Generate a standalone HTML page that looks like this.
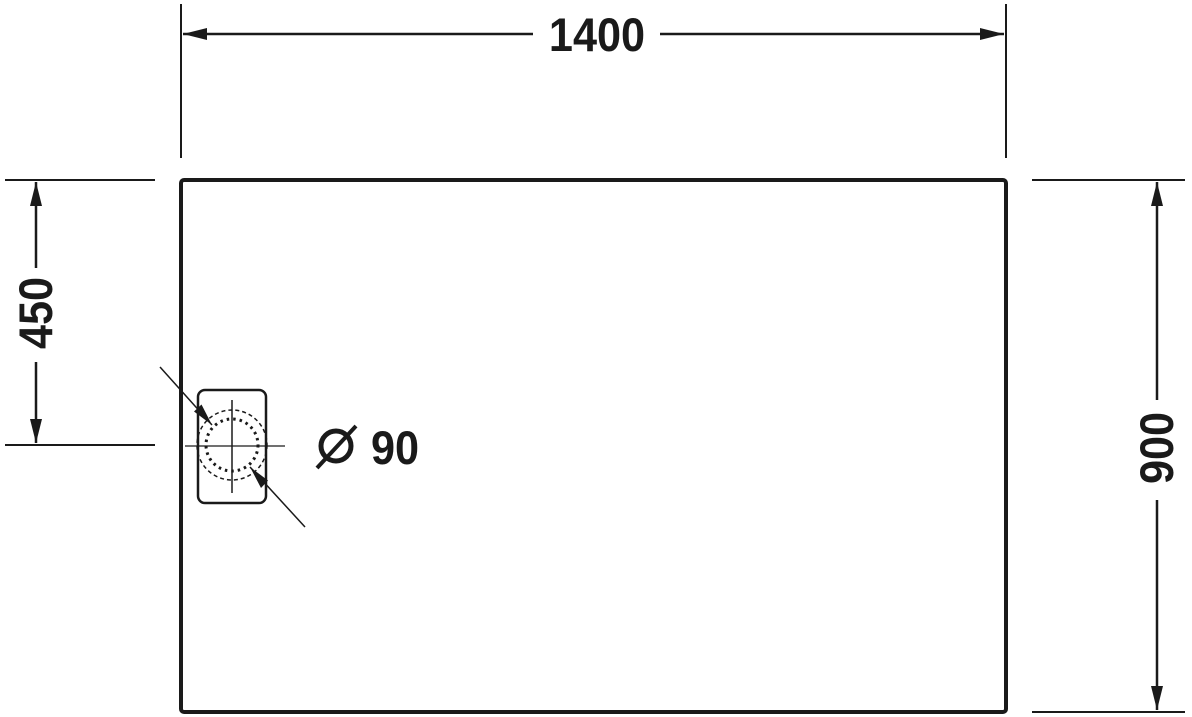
<!DOCTYPE html>
<html><head><style>
html,body{margin:0;padding:0;background:#fff;}
svg{display:block}
text{font-family:"Liberation Sans",sans-serif;font-weight:bold;fill:#1a1a1a}
</style></head><body>
<svg width="1192" height="717" viewBox="0 0 1192 717" xmlns="http://www.w3.org/2000/svg">
<g stroke="#1a1a1a" fill="none">
<rect x="181" y="180" width="825" height="532" rx="3" stroke-width="4"/>
<line x1="181" y1="4" x2="181" y2="158" stroke-width="2"/>
<line x1="1006" y1="4" x2="1006" y2="158" stroke-width="2"/>
<line x1="183" y1="34" x2="533" y2="34" stroke-width="2.5"/>
<line x1="660" y1="34" x2="1004" y2="34" stroke-width="2.5"/>
<line x1="5" y1="180" x2="155" y2="180" stroke-width="2"/>
<line x1="5" y1="445" x2="155" y2="445" stroke-width="2"/>
<line x1="36" y1="182" x2="36" y2="268" stroke-width="2.5"/>
<line x1="36" y1="362" x2="36" y2="443" stroke-width="2.5"/>
<line x1="1032" y1="180" x2="1185" y2="180" stroke-width="2"/>
<line x1="1032" y1="712" x2="1185" y2="712" stroke-width="2"/>
<line x1="1157" y1="182" x2="1157" y2="400" stroke-width="2.5"/>
<line x1="1157" y1="500" x2="1157" y2="710" stroke-width="2.5"/>
<rect x="198" y="390" width="68" height="113" rx="7" stroke-width="2.5"/>
<circle cx="232" cy="445" r="35" stroke-width="1.5" stroke-dasharray="4 3"/>
<circle cx="232" cy="445" r="26" stroke-width="3" stroke-dasharray="2.5 4"/>
<line x1="185" y1="446" x2="285" y2="446" stroke-width="1.2"/>
<line x1="232" y1="400" x2="232" y2="493" stroke-width="1.5"/>
<line x1="160" y1="367" x2="212" y2="425" stroke-width="1.5"/>
<line x1="305" y1="527" x2="250" y2="467" stroke-width="1.5"/>
<circle cx="336" cy="446" r="15" stroke-width="5"/>
<line x1="317" y1="468" x2="356" y2="426" stroke-width="4"/>
</g>
<g fill="#1a1a1a">
<polygon points="183,34 207,28 207,40"/>
<polygon points="1004,34 980,28 980,40"/>
<polygon points="36,182 30,206 42,206"/>
<polygon points="36,443 30,419 42,419"/>
<polygon points="1157,182 1151,206 1163,206"/>
<polygon points="1157,710 1151,686 1163,686"/>
<polygon points="212,425 194,411.5 201.5,404.5"/>
<polygon points="250,467 268,480.5 261,488"/>
</g>
<text font-size="47" text-anchor="middle" transform="translate(597 51) scale(0.92 1)">1400</text>
<text font-size="47" text-anchor="middle" transform="translate(395 464) scale(0.92 1)">90</text>
<text font-size="47" text-anchor="middle" transform="translate(52 313) rotate(-90) scale(0.92 1)">450</text>
<text font-size="47" text-anchor="middle" transform="translate(1173 448) rotate(-90) scale(0.92 1)">900</text>
</svg>
</body></html>
